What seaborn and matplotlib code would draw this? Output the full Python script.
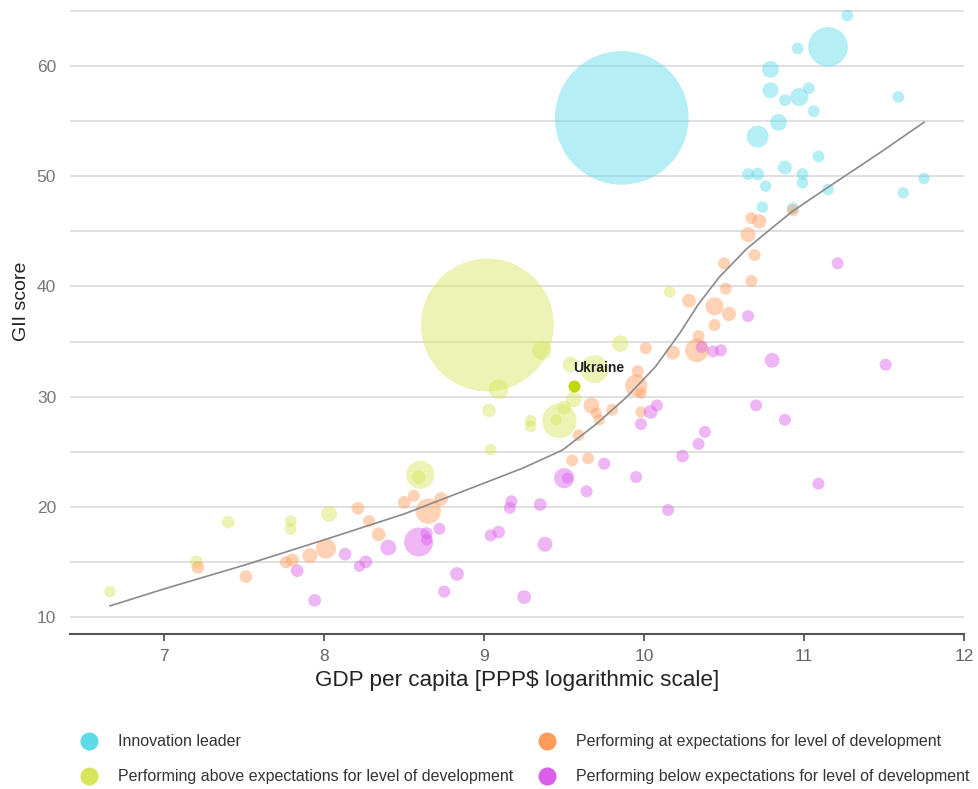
import pandas as pd
import numpy as np
import seaborn as sns
import matplotlib.pyplot as plt
from matplotlib.lines import Line2D

# GII score vs log GDP per capita, bubble = population (millions)
leader_gdp = [11.27, 11.15, 10.96, 10.79, 10.79, 10.88, 10.97, 11.03, 11.06, 10.84, 10.71, 11.59, 11.09,
              10.88, 10.65, 10.71, 10.76, 10.99, 10.99, 11.15, 11.75, 11.62, 10.74, 10.93, 9.86]
leader_gii = [64.6, 61.75, 61.6, 59.7, 57.8, 56.9, 57.2, 58.0, 55.9, 54.9, 53.6, 57.2, 51.8,
              50.8, 50.2, 50.2, 49.1, 50.2, 49.4, 48.8, 49.8, 48.5, 47.2, 47.1, 55.3]
leader_pop = [10, 330, 10, 68, 57, 10, 83, 10, 10, 67, 126, 9, 9,
              35, 10, 20, 5, 10, 5, 6, 6, 6, 4, 10, 1410]

above_gdp = [9.02, 6.66, 7.20, 7.40, 7.79, 7.79, 8.03, 8.60, 8.59, 9.04, 9.09, 9.03, 9.29, 9.29,
             9.47, 9.45, 9.50, 9.56, 9.36, 9.69, 9.54, 9.85, 10.16]
above_gii = [36.5, 12.3, 15.0, 18.6, 18.7, 18.0, 19.35, 22.9, 22.7, 25.2, 30.66, 28.75, 27.8, 27.3,
             27.8, 27.9, 29.0, 29.75, 34.2, 32.5, 32.9, 34.8, 39.5]
above_pop = [1400, 8, 20, 20, 10, 10, 57, 200, 30, 10, 100, 30, 10, 10,
             270, 2, 33, 55, 95, 195, 55, 65, 10]

at_gdp = [7.21, 7.51, 7.76, 7.80, 7.91, 8.01, 8.21, 8.28, 8.34, 8.50, 8.56, 8.65, 8.73, 9.59,
          9.55, 9.65, 9.67, 9.70, 9.72, 9.80, 9.95, 9.96, 9.98, 9.98, 10.01, 10.18, 10.28, 10.33,
          10.34, 10.44, 10.44, 10.53, 10.51, 10.67, 10.50, 10.69, 10.65, 10.72, 10.67, 10.93]
at_gii = [14.5, 13.66, 14.96, 15.17, 15.56, 16.2, 19.86, 18.7, 17.5, 20.4, 21.0, 19.6, 20.7, 26.5,
          24.2, 24.4, 29.2, 28.5, 27.9, 28.8, 31.0, 32.3, 30.3, 28.6, 34.4, 34.0, 38.7, 34.2,
          35.5, 38.2, 36.5, 37.5, 39.8, 40.5, 42.1, 42.85, 44.7, 45.9, 46.2, 46.9]
at_pop = [20, 20, 12, 22, 45, 105, 20, 12, 33, 20, 12, 165, 33, 10,
          10, 10, 55, 3, 3, 12, 128, 12, 3, 3, 12, 33, 33, 145,
          12, 80, 12, 38, 12, 12, 12, 12, 47, 38, 10, 10]

below_gdp = [7.83, 7.94, 8.13, 8.22, 8.26, 8.40, 8.59, 8.64, 8.64, 8.72, 8.75, 8.83, 9.04, 9.09,
             9.16, 9.17, 9.35, 9.25, 9.38, 9.50, 9.52, 9.64, 9.75, 9.95, 9.98, 10.04, 10.08, 10.15,
             10.24, 10.38, 10.34, 10.70, 10.88, 11.09, 10.80, 11.51, 10.65, 11.21, 10.36, 10.43, 10.48]
below_gii = [14.2, 11.5, 15.7, 14.6, 15.0, 16.3, 16.8, 17.6, 17.0, 18.0, 12.3, 13.9, 17.4, 17.7,
             19.9, 20.5, 20.2, 11.8, 16.6, 22.6, 22.6, 21.4, 23.9, 22.7, 27.5, 28.6, 29.2, 19.7,
             24.6, 26.8, 25.7, 29.2, 27.9, 22.1, 33.3, 32.9, 37.3, 42.1, 34.5, 34.1, 34.2]
below_pop = [20, 20, 20, 5, 20, 57, 206, 12, 4, 12, 12, 33, 12, 20,
             12, 12, 20, 33, 45, 105, 3, 12, 12, 12, 12, 33, 12, 12,
             20, 12, 12, 12, 12, 12, 45, 12, 12, 12, 12, 12, 12]

ukraine_gdp = 9.56
ukraine_gii = 31.0

# fitted trend line
trend_gdp = [6.66, 7.0, 7.5, 8.0, 8.5, 9.0, 9.24, 9.49, 9.70, 9.89, 10.07, 10.22, 10.34, 10.47,
             10.64, 10.79, 10.93, 11.16, 11.45, 11.75]
trend_gii = [11.0, 12.55, 14.7, 17.0, 19.35, 22.15, 23.5, 25.15, 27.5, 29.95, 32.7, 35.7, 38.4, 40.85,
             43.4, 45.2, 46.85, 49.1, 51.9, 54.9]

groups = ["Innovation leader",
          "Performing above expectations for level of development",
          "Performing at expectations for level of development",
          "Performing below expectations for level of development"]
colors = ["#5ddbe9", "#d7e55a", "#ff9c5b", "#dc5fec"]

frames = []
for g, xs, ys, ps in zip(groups, [leader_gdp, above_gdp, at_gdp, below_gdp],
                         [leader_gii, above_gii, at_gii, below_gii],
                         [leader_pop, above_pop, at_pop, below_pop]):
    frames.append(pd.DataFrame({"gdp": xs, "gii": ys, "pop": ps, "group": g}))
df = pd.concat(frames, ignore_index=True)
# bubble radius grows with population (px), converted to marker area in pt^2
df["area"] = (2 * 0.72 * (5.5 + 0.0435 * df["pop"])) ** 2
amin, amax = df["area"].min(), df["area"].max()

fig = plt.figure(figsize=(9.79, 7.89), dpi=100)
ax = fig.add_axes([70 / 979, (789 - 634) / 789, 894 / 979, 634 / 789])

sns.scatterplot(data=df, x="gdp", y="gii", hue="group", hue_order=groups, palette=colors,
                size="area", sizes=(amin, amax), size_norm=(amin, amax),
                alpha=0.45, linewidth=0, legend=False, ax=ax)
sns.scatterplot(x=[ukraine_gdp], y=[ukraine_gii], color="#c3d800", s=(2 * 0.72 * 6) ** 2,
                linewidth=0, legend=False, ax=ax, zorder=4)
ax.annotate("Ukraine", (ukraine_gdp, ukraine_gii), xytext=(18, 13), textcoords="offset points",
            ha="center", va="center", fontsize=10, fontweight="bold", color="#222222",
            family="Liberation Sans")

sns.lineplot(x=trend_gdp, y=trend_gii, color="#8a8a8a", linewidth=1.2, ax=ax, zorder=3)

ax.set_xlim(6.41, 12.0)
ax.set_ylim(8.45, 66)
ax.set_xticks([7, 8, 9, 10, 11, 12])
ax.set_yticks([10, 20, 30, 40, 50, 60])
ax.set_yticks(np.arange(10, 70, 5), minor=True)
ax.grid(axis="y", which="both", color="#dddddd", linewidth=1.3)
ax.grid(axis="x", visible=False)
ax.set_axisbelow(True)
for s in ["left", "top", "right"]:
    ax.spines[s].set_visible(False)
ax.spines["bottom"].set_color("#555555")
ax.spines["bottom"].set_linewidth(1.5)
ax.tick_params(axis="y", which="both", length=0, labelsize=12.5, labelcolor="#777777", pad=10)
ax.tick_params(axis="x", length=5, width=1.3, color="#555555", labelsize=12.5, labelcolor="#666666", pad=6)
for lab in ax.get_xticklabels() + ax.get_yticklabels():
    lab.set_family("Liberation Sans")

ax.set_xlabel("GDP per capita [PPP$ logarithmic scale]", fontsize=16.2, color="#222222", family="Liberation Sans")
ax.set_ylabel("GII score", fontsize=14, color="#222222", family="Liberation Sans")
ax.xaxis.set_label_coords(0.5, -0.057)
ax.yaxis.set_label_coords(-0.045, 0.525)

handles = [Line2D([], [], marker="o", linestyle="", markersize=13, markerfacecolor=c,
                  markeredgewidth=0) for c in colors]
fig.legend(handles, groups, ncol=2, loc="upper left", bbox_to_anchor=(65 / 979, 1 - 720 / 789),
           frameon=False, handlelength=1.2, handletextpad=1.2, columnspacing=1.55, labelspacing=1.26,
           prop={"family": "Liberation Sans", "size": 11.5}, labelcolor="#333333")

plt.savefig("out.png", dpi=100)
